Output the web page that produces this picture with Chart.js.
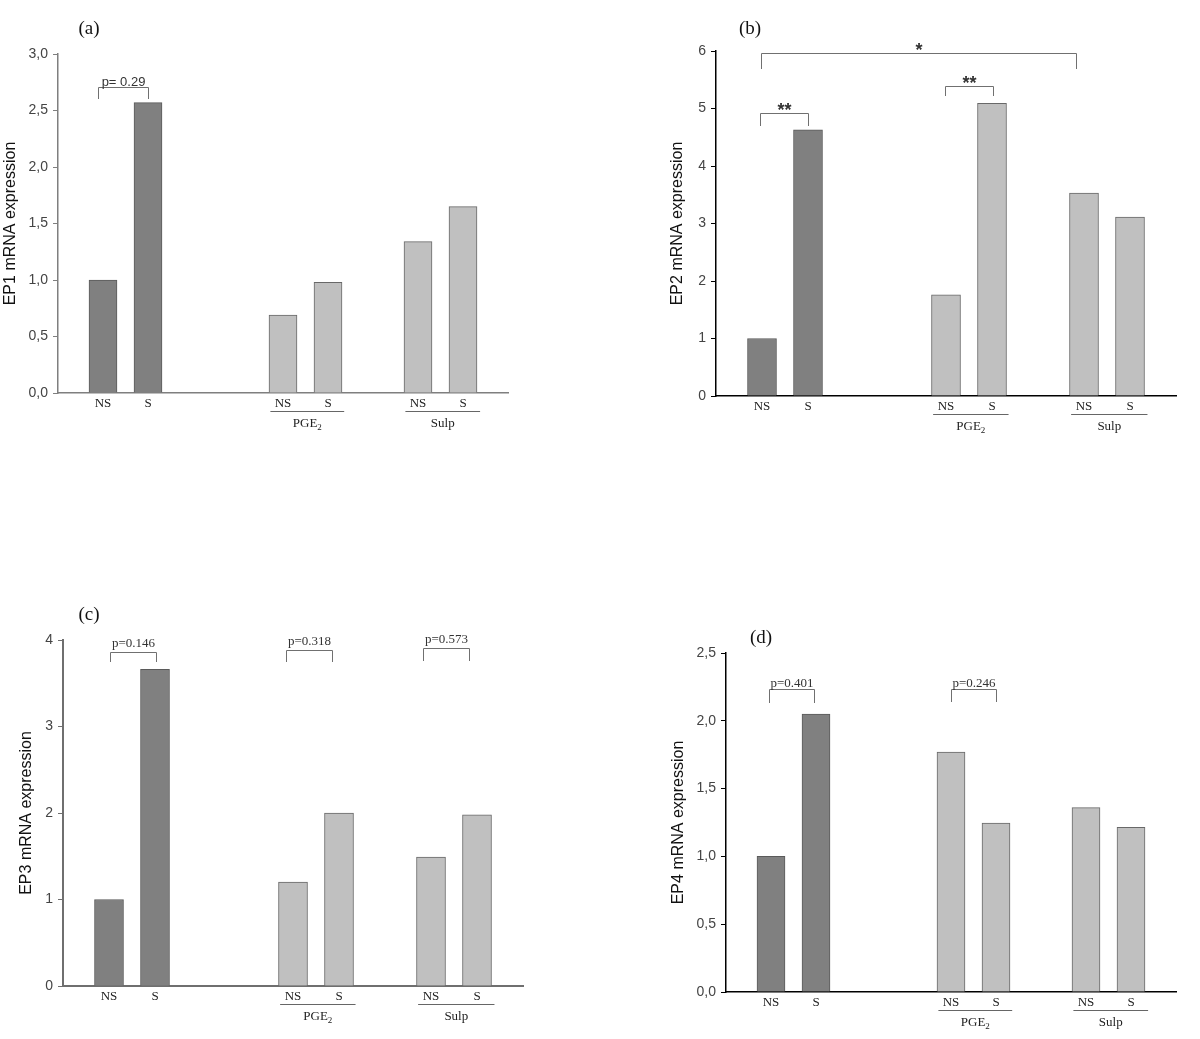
<!DOCTYPE html>
<html><head><meta charset="utf-8">
<script src="https://cdn.jsdelivr.net/npm/chart.js@4.4.1/dist/chart.umd.min.js"></script>
<style>
html,body{margin:0;padding:0;background:#fff;}
body{width:1200px;height:1039px;position:relative;overflow:hidden;}
canvas{position:absolute;}
</style></head><body>
<canvas id="ca" width="600" height="520" style="left:0;top:0"></canvas>
<canvas id="cb" width="600" height="520" style="left:600px;top:0"></canvas>
<canvas id="cc" width="600" height="519" style="left:0;top:520px"></canvas>
<canvas id="cd" width="600" height="519" style="left:600px;top:520px"></canvas>
<script>
// ---- data ----
const categories = ['', 'NS', 'S', '', '', 'NS', 'S', '', 'NS', 'S', ''];
const barSlots = [1, 2, 5, 6, 8, 9];
const barShades = ['dark', 'dark', 'light', 'light', 'light', 'light'];
const ep1Values = [1.00, 2.57, 0.69, 0.98, 1.34, 1.65];
const ep2Values = [1.00, 4.63, 1.76, 5.09, 3.53, 3.11];
const ep3Values = [1.00, 3.66, 1.20, 2.00, 1.49, 1.98];
const ep4Values = [1.00, 2.05, 1.77, 1.245, 1.36, 1.215];
const ep1Ticks = {max: 3.0, step: 0.5, decimals: 1};
const ep2Ticks = {max: 6, step: 1, decimals: 0};
const ep3Ticks = {max: 4, step: 1, decimals: 0};
const ep4Ticks = {max: 2.5, step: 0.5, decimals: 1};
const groupLabels = [
  {text: 'PGE', sub: '2', from: 4.72, to: 6.36},
  {text: 'Sulp', sub: '', from: 7.72, to: 9.38}
];
const ep1Brackets = [{from: 0.89, to: 2.0, top: 2.705, bottom: 2.60, label: 'p= 0.29'}];
const ep2Brackets = [
  {from: 0.98, to: 7.83, top: 5.96, bottom: 5.69, label: '*'},
  {from: 0.96, to: 2.0, top: 4.92, bottom: 4.70, label: '**'},
  {from: 4.98, to: 6.03, top: 5.40, bottom: 5.21, label: '**'}
];
const ep3Brackets = [
  {from: 1.02, to: 2.02, top: 3.86, bottom: 3.74, label: 'p=0.146'},
  {from: 4.85, to: 5.85, top: 3.88, bottom: 3.75, label: 'p=0.318'},
  {from: 7.83, to: 8.83, top: 3.91, bottom: 3.76, label: 'p=0.573'}
];
const ep4Brackets = [
  {from: 0.96, to: 1.96, top: 2.231, bottom: 2.13, label: 'p=0.401'},
  {from: 5.01, to: 6.01, top: 2.234, bottom: 2.142, label: 'p=0.246'}
];

// ---- helpers ----
function slotData(values) {
  const d = categories.map(() => null);
  barSlots.forEach((s, i) => { d[s] = values[i]; });
  return d;
}
const shadeFill = {dark: '#808080', light: '#c0c0c0'};
const shadeBorder = {dark: '#5a5a5a', light: '#686868'};
function slotColors(map) {
  const d = categories.map(() => 'rgba(0,0,0,0)');
  barSlots.forEach((s, i) => { d[s] = map[barShades[i]]; });
  return d;
}

const decor = {
  id: 'decor',
  afterDraw(chart, args, o) {
    const ctx = chart.ctx, xs = chart.scales.x, ys = chart.scales.y;
    ctx.save();
    ctx.fillStyle = '#111';
    ctx.font = '19px "Liberation Serif"';
    ctx.textAlign = 'center';
    ctx.textBaseline = 'middle';
    ctx.fillText(o.letter, o.letterX, o.letterY);

    ctx.strokeStyle = '#707070';
    ctx.lineWidth = 1;
    for (const b of o.brackets) {
      const x1 = Math.round(xs.getPixelForValue(b.from)) + 0.5;
      const x2 = Math.round(xs.getPixelForValue(b.to)) + 0.5;
      const yt = Math.round(ys.getPixelForValue(b.top)) + 0.5;
      const yb = Math.round(ys.getPixelForValue(b.bottom));
      ctx.beginPath();
      ctx.moveTo(x1, yb); ctx.lineTo(x1, yt); ctx.lineTo(x2, yt); ctx.lineTo(x2, yb);
      ctx.stroke();
      ctx.font = o.bracketFont;
      ctx.fillStyle = '#333';
      ctx.textBaseline = 'alphabetic';
      ctx.fillText(b.label, (x1 + x2) / 2, yt - o.labelGap);
    }

    const axisY = ys.getPixelForValue(0);
    for (const g of groupLabels) {
      const x1 = xs.getPixelForValue(g.from), x2 = xs.getPixelForValue(g.to);
      const ly = Math.round(axisY + 18) + 0.5;
      ctx.strokeStyle = '#666';
      ctx.beginPath(); ctx.moveTo(x1, ly); ctx.lineTo(x2, ly); ctx.stroke();
      ctx.fillStyle = '#222';
      ctx.textBaseline = 'alphabetic';
      ctx.font = '13px "Liberation Serif"';
      const w1 = ctx.measureText(g.text).width;
      ctx.font = '9px "Liberation Serif"';
      const w2 = g.sub ? ctx.measureText(g.sub).width : 0;
      const cx = (x1 + x2) / 2;
      const start = cx - (w1 + w2) / 2;
      ctx.textAlign = 'left';
      ctx.font = '13px "Liberation Serif"';
      ctx.fillText(g.text, start, axisY + 34);
      if (g.sub) {
        ctx.font = '9px "Liberation Serif"';
        ctx.fillText(g.sub, start + w1, axisY + 37);
      }
      ctx.textAlign = 'center';
    }
    ctx.restore();
  }
};

function makeChart(id, values, tk, p) {
  const fmt = v => tk.decimals ? v.toFixed(tk.decimals).replace('.', ',') : String(Math.round(v));
  return new Chart(document.getElementById(id), {
    type: 'bar',
    data: {
      labels: categories,
      datasets: [{
        data: slotData(values),
        backgroundColor: slotColors(shadeFill),
        borderColor: slotColors(shadeBorder),
        borderWidth: 1,
        borderSkipped: 'bottom',
        barThickness: p.barW
      }]
    },
    options: {
      responsive: false,
      devicePixelRatio: 1,
      animation: false,
      events: [],
      layout: {padding: {left: 0, top: p.top, right: p.right, bottom: p.bottom}},
      plugins: {
        legend: {display: false},
        tooltip: {enabled: false},
        decor: {
          letter: p.letter, letterX: p.letterX, letterY: p.letterY,
          brackets: p.brackets, bracketFont: p.bracketFont, labelGap: p.labelGap
        }
      },
      scales: {
        x: {
          offset: false,
          grid: {display: false, drawTicks: false},
          border: {display: true, color: p.axisColor, width: p.axisWidth},
          ticks: {
            autoSkip: false, maxRotation: 0, minRotation: 0, padding: 3,
            color: '#222', font: {family: 'Liberation Serif', size: 13}
          },
          afterFit: s => { s.height = 40; }
        },
        y: {
          min: 0, max: tk.max,
          grid: {display: true, drawOnChartArea: false, drawTicks: true, tickLength: 5, color: p.axisColor},
          border: {display: true, color: p.axisColor, width: p.axisWidth},
          ticks: {
            stepSize: tk.step, padding: 5, color: '#444',
            font: {family: 'Liberation Sans', size: 14},
            callback: v => fmt(v)
          },
          title: {
            display: true, text: p.yTitle, color: '#111',
            font: {family: 'Liberation Sans', size: 16, lineHeight: 1.2},
            padding: {top: p.titlePad, bottom: 0}
          },
          afterFit: s => { s.width = p.yWidth; }
        }
      }
    },
    plugins: [decor]
  });
}

makeChart('ca', ep1Values, ep1Ticks, {
  yWidth: 58, top: 54, right: 92, bottom: 87, barW: 28, titlePad: 1.4,
  yTitle: 'EP1 mRNA expression', axisColor: '#7f7f7f', axisWidth: 1.5,
  letter: '(a)', letterX: 89, letterY: 29,
  brackets: ep1Brackets, bracketFont: '13px "Liberation Sans"', labelGap: 2
});
makeChart('cb', ep2Values, ep2Ticks, {
  yWidth: 116, top: 51, right: 24, bottom: 84, barW: 29, titlePad: 68.4,
  yTitle: 'EP2 mRNA expression', axisColor: '#000', axisWidth: 1.5,
  letter: '(b)', letterX: 150, letterY: 29,
  brackets: ep2Brackets, bracketFont: 'bold 18px "Liberation Sans"', labelGap: -2.5
});
makeChart('cc', ep3Values, ep3Ticks, {
  yWidth: 63, top: 120, right: 77, bottom: 13, barW: 29, titlePad: 17,
  yTitle: 'EP3 mRNA expression', axisColor: '#6f6f6f', axisWidth: 2,
  letter: '(c)', letterX: 89, letterY: 95,
  brackets: ep3Brackets, bracketFont: '13px "Liberation Serif"', labelGap: 6
});
makeChart('cd', ep4Values, ep4Ticks, {
  yWidth: 126, top: 133, right: 24, bottom: 7, barW: 28, titlePad: 69.4,
  yTitle: 'EP4 mRNA expression', axisColor: '#000', axisWidth: 1.5,
  letter: '(d)', letterX: 161, letterY: 118,
  brackets: ep4Brackets, bracketFont: '13px "Liberation Serif"', labelGap: 3
});
</script>
</body></html>
